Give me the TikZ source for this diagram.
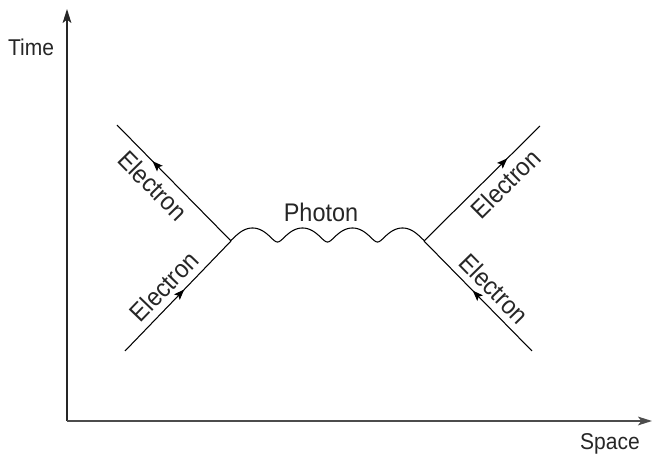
\documentclass[tikz,border=0pt]{standalone}
\usepackage{fontspec}
\setmainfont{Liberation Sans}[FakeStretch=0.92]
\usetikzlibrary{arrows.meta,decorations.markings}
\begin{document}
\begin{tikzpicture}[x=0.02cm,y=-0.02cm,
  axis/.style={line width=0.8pt, draw=black!85, -{Stealth[length=8pt,width=5pt,inset=2pt]}},
  fermion/.style={line width=0.6pt, decoration={markings, mark=at position #1 with {\arrow{Stealth[length=6pt,width=4.5pt,inset=1.2pt]}}}, postaction={decorate}},
  lbl/.style={font=\fontsize{14.5}{17}\selectfont, text=black!85, inner sep=0pt},
  axlbl/.style={font=\fontsize{13}{15}\selectfont, text=black!85, inner sep=0pt},
  photon/.style={line width=0.6pt}
  ]
\useasboundingbox (0,0) rectangle (654,456);
% axes
\coordinate (O) at (67,421);
\coordinate (yend) at (67,9);
\coordinate (xend) at (652,421);
\draw[axis] (O) -- (yend);
\draw[axis, draw=black!70] (O) -- (xend);
\node[axlbl, anchor=base] (time) at (31,56) {Time};
\node[axlbl, anchor=base] (space) at (610,450) {Space};
% vertices and ends
\coordinate (L) at (231,241);
\coordinate (R) at (424,241);
\coordinate (ul) at (117,125);
\coordinate (ll) at (125,351);
\coordinate (ur) at (540,126);
\coordinate (lr) at (532,351);
% electron lines
\draw[fermion=0.56] (ll) -- (L);
\draw[fermion=0.69] (L) -- (ul);
\draw[fermion=0.55] (lr) -- (R);
\draw[fermion=0.72] (R) -- (ur);
% labels
\path (ul) -- (L) node[lbl, sloped, pos=0.42, below=4pt] (e1) {Electron};
\path (ll) -- (L) node[lbl, sloped, pos=0.48, above=4pt] (e2) {Electron};
\path (R) -- (ur) node[lbl, sloped, pos=0.60, below=4pt] (e3) {Electron};
\path (R) -- (lr) node[lbl, sloped, pos=0.54, above=4pt] (e4) {Electron};
% photon
\draw[photon] (L) -- plot[domain=-684:684, samples=300, variable=\t]
  ({327.5 + \t/360*50 - 3.2*sin(\t)}, {235 + 7*cos(\t)}) -- (R);
\node[lbl, anchor=base] (ph) at (321,222) {Photon};
\end{tikzpicture}
\end{document}
